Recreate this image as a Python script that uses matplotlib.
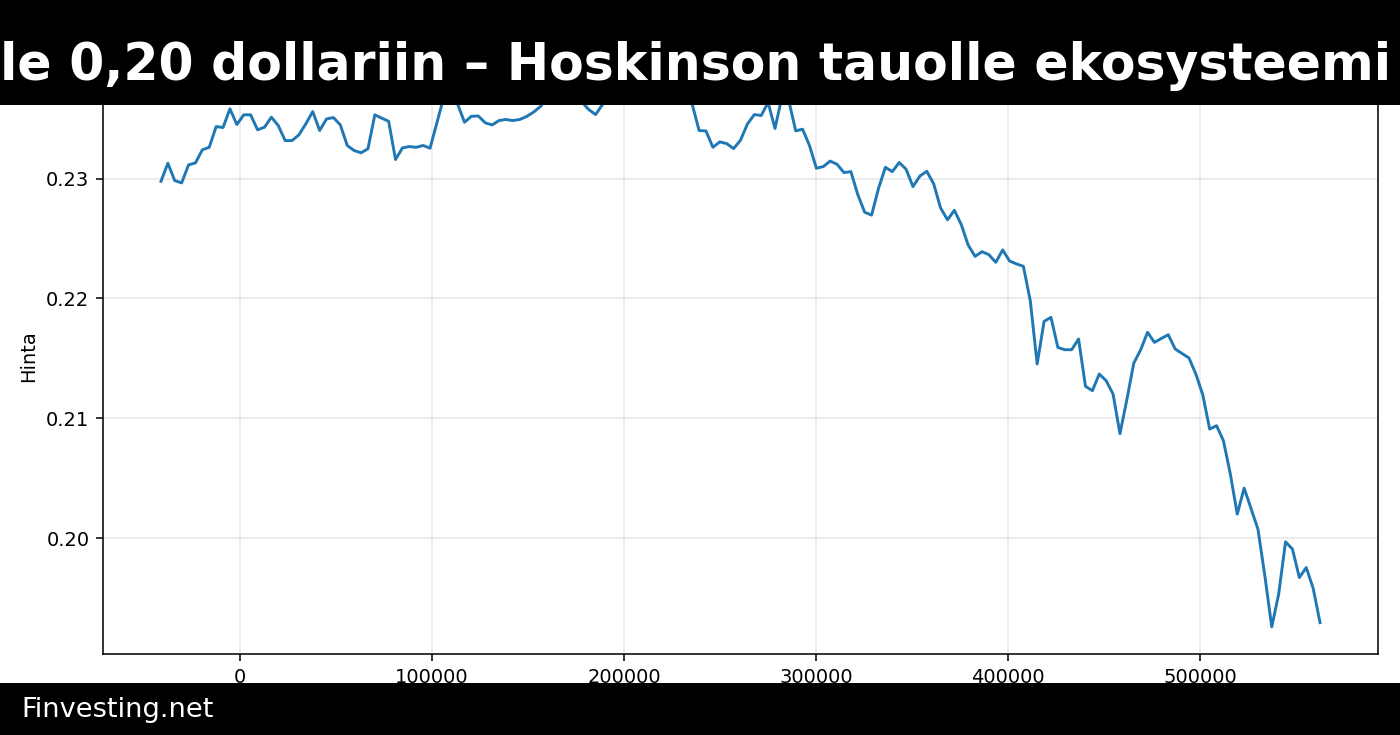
import numpy as np
import matplotlib
matplotlib.use('Agg')
import matplotlib.pyplot as plt
from matplotlib.patches import Rectangle

# evenly spaced samples, x in seconds
x_start = -41170
x_step = 3593

hinta = [
    0.22977, 0.23128, 0.22983, 0.22964, 0.23114, 0.23131, 0.23240, 0.23261, 0.23434, 0.23426,
    0.23582, 0.23451, 0.23532, 0.23532, 0.23407, 0.23428, 0.23512, 0.23443, 0.23317, 0.23317,
    0.23365, 0.23457, 0.23559, 0.23401, 0.23498, 0.23509, 0.23448, 0.23276, 0.23234, 0.23215,
    0.23248, 0.23532, 0.23504, 0.23478, 0.23159, 0.23256, 0.23267, 0.23261, 0.23276, 0.23253,
    0.23468, 0.23680, 0.23700, 0.23620, 0.23470, 0.23520, 0.23522, 0.23465, 0.23448, 0.23484,
    0.23493, 0.23484, 0.23493, 0.23518, 0.23554, 0.23601, 0.23670, 0.23720, 0.23690, 0.23740,
    0.23680, 0.23640, 0.23576, 0.23534, 0.23618, 0.23670, 0.23710, 0.23750, 0.23720, 0.23760,
    0.23780, 0.23730, 0.23750, 0.23700, 0.23720, 0.23670, 0.23650, 0.23620, 0.23401, 0.23397,
    0.23261, 0.23306, 0.23292, 0.23250, 0.23320, 0.23455, 0.23534, 0.23526, 0.23635, 0.23418,
    0.23680, 0.23650, 0.23398, 0.23412, 0.23276, 0.23086, 0.23100, 0.23146, 0.23119, 0.23050,
    0.23058, 0.22866, 0.22719, 0.22695, 0.22917, 0.23094, 0.23058, 0.23134, 0.23078, 0.22933,
    0.23021, 0.23061, 0.22956, 0.22755, 0.22656, 0.22735, 0.22616, 0.22445, 0.22351, 0.22390,
    0.22365, 0.22301, 0.22405, 0.22312, 0.22288, 0.22268, 0.21981, 0.21453, 0.21808, 0.21842,
    0.21591, 0.21572, 0.21572, 0.21661, 0.21267, 0.21230, 0.21369, 0.21313, 0.21202, 0.20871,
    0.21155, 0.21459, 0.21572, 0.21717, 0.21633, 0.21666, 0.21697, 0.21578, 0.21541, 0.21503,
    0.21369, 0.21196, 0.20910, 0.20938, 0.20812, 0.20534, 0.20200, 0.20417, 0.20247, 0.20075,
    0.19685, 0.19259, 0.19532, 0.19969, 0.19908, 0.19671, 0.19754, 0.19582, 0.19295,
]

otsikko = "le 0,20 dollariin – Hoskinson tauolle ekosysteemi"
lahde = "Finvesting.net"

aika = x_start + x_step * np.arange(len(hinta))

fig = plt.figure(figsize=(10, 5.25), dpi=140)
ax = fig.add_axes([103 / 1400, 81 / 735, 1275 / 1400, 596 / 735])
ax.plot(aika, hinta, color='#1f77b4', linewidth=1.5)
ax.set_ylabel('Hinta')
ax.grid(True, alpha=0.3)

# black bars on top and bottom
fig.add_artist(Rectangle((0, 1 - 105 / 735), 1, 105 / 735, transform=fig.transFigure,
                         facecolor='black', edgecolor='none', zorder=5))
fig.add_artist(Rectangle((0, 0), 1, 52 / 735, transform=fig.transFigure,
                         facecolor='black', edgecolor='none', zorder=5))
fig.text(0.0, 1 - 80 / 735, otsikko, color='white', fontsize=26, fontweight='bold',
         ha='left', va='baseline', zorder=6)
fig.text(21 / 1400, 18 / 735, lahde, color='white', fontsize=14,
         ha='left', va='baseline', zorder=6)

fig.savefig('out.png', dpi=140)
